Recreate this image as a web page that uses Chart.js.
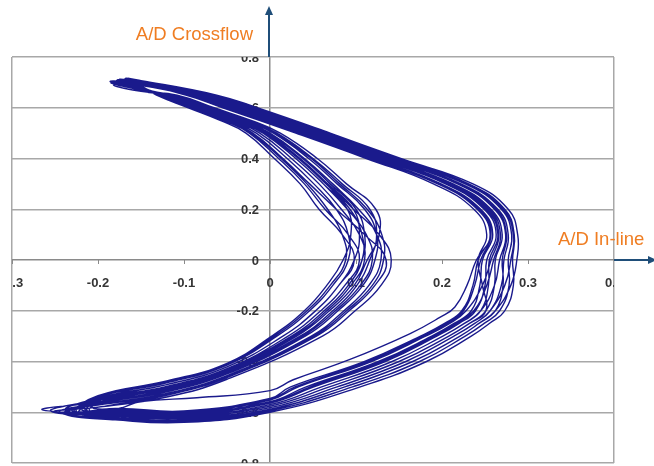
<!DOCTYPE html>
<html>
<head>
<meta charset="utf-8">
<script src="https://cdn.jsdelivr.net/npm/chart.js@4/dist/chart.umd.min.js"></script>
<style>
  html, body { margin: 0; padding: 0; background: #ffffff; }
  #wrap { width: 654px; height: 466px; position: relative; }
</style>
</head>
<body>
<div id="wrap"><canvas id="orbit" width="654" height="466"></canvas></div>
<script>
// Axis ticks (value and printed label)
const xTickValues = [-0.3, -0.2, -0.1, 0, 0.1, 0.2, 0.3, 0.4];
const xTickLabels = ['-0.3', '-0.2', '-0.1', '0', '0.1', '0.2', '0.3', '0.4'];
const yTickValues = [0.8, 0.6, 0.4, 0.2, 0, -0.2, -0.4, -0.6, -0.8];
const yTickLabels = ['0.8', '0.6', '0.4', '0.2', '0', '-0.2', '-0.4', '-0.6', '-0.8'];

// Cylinder orbit, one array per oscillation cycle: [A/D in-line, A/D crossflow]
const cycle1 = [[-0.183,0.700],[-0.150,0.691],[-0.091,0.65],[-0.047,0.60],[0.038,0.50],[0.120,0.40],[0.199,0.30],[0.245,0.20],[0.259,0.10],[0.247,0.00],[0.244,-0.10],[0.234,-0.20],[0.214,-0.25],[0.188,-0.30],[0.126,-0.40],[0.042,-0.50],[0.000,-0.558],[-0.100,-0.605],[-0.180,-0.595],[-0.230,-0.595],[-0.200,-0.555],[-0.120,-0.505],[-0.050,-0.435],[0.028,-0.30],[0.066,-0.20],[0.094,-0.10],[0.110,0.00],[0.104,0.10],[0.083,0.20],[0.057,0.30],[0.025,0.40],[-0.012,0.50],[-0.044,0.55],[-0.083,0.60],[-0.122,0.65],[-0.150,0.677]];
const cycle2 = [[-0.175,0.712],[-0.150,0.697],[-0.080,0.65],[-0.035,0.60],[0.050,0.50],[0.132,0.40],[0.213,0.30],[0.257,0.20],[0.270,0.10],[0.262,0.00],[0.261,-0.10],[0.251,-0.20],[0.232,-0.25],[0.208,-0.30],[0.150,-0.40],[0.069,-0.50],[0.000,-0.576],[-0.100,-0.620],[-0.180,-0.610],[-0.215,-0.590],[-0.200,-0.545],[-0.120,-0.491],[-0.050,-0.421],[0.015,-0.30],[0.053,-0.20],[0.080,-0.10],[0.098,0.00],[0.104,0.10],[0.097,0.20],[0.067,0.30],[0.035,0.40],[-0.004,0.50],[-0.036,0.55],[-0.077,0.60],[-0.118,0.65],[-0.150,0.673]];
const cycle3 = [[-0.174,0.709],[-0.150,0.694],[-0.085,0.65],[-0.041,0.60],[0.044,0.50],[0.126,0.40],[0.206,0.30],[0.251,0.20],[0.265,0.10],[0.255,0.00],[0.254,-0.10],[0.245,-0.20],[0.226,-0.25],[0.201,-0.30],[0.142,-0.40],[0.060,-0.50],[0.000,-0.570],[-0.100,-0.615],[-0.180,-0.605],[-0.222,-0.600],[-0.200,-0.562],[-0.120,-0.516],[-0.050,-0.446],[0.038,-0.30],[0.076,-0.20],[0.105,-0.10],[0.119,0.00],[0.112,0.10],[0.090,0.20],[0.062,0.30],[0.030,0.40],[-0.008,0.50],[-0.040,0.55],[-0.080,0.60],[-0.120,0.65],[-0.150,0.675]];
const cycle4 = [[-0.168,0.715],[-0.150,0.703],[-0.069,0.65],[-0.023,0.60],[0.062,0.50],[0.144,0.40],[0.227,0.30],[0.269,0.20],[0.281,0.10],[0.277,0.00],[0.278,-0.10],[0.267,-0.20],[0.249,-0.25],[0.227,-0.30],[0.174,-0.40],[0.096,-0.50],[0.000,-0.594],[-0.100,-0.635],[-0.180,-0.625],[-0.245,-0.600],[-0.200,-0.565],[-0.120,-0.519],[-0.050,-0.449],[0.041,-0.30],[0.079,-0.20],[0.108,-0.10],[0.122,0.00],[0.124,0.10],[0.110,0.20],[0.078,0.30],[0.045,0.40],[0.004,0.50],[-0.029,0.55],[-0.071,0.60],[-0.113,0.65],[-0.150,0.669]];
const cycle5 = [[-0.186,0.703],[-0.150,0.695],[-0.084,0.65],[-0.039,0.60],[0.046,0.50],[0.128,0.40],[0.208,0.30],[0.253,0.20],[0.266,0.10],[0.257,0.00],[0.247,-0.10],[0.228,-0.20],[0.209,-0.25],[0.181,-0.30],[0.118,-0.40],[0.033,-0.50],[0.000,-0.552],[-0.100,-0.600],[-0.180,-0.590],[-0.205,-0.585],[-0.190,-0.575],[-0.120,-0.533],[-0.050,-0.463],[0.054,-0.30],[0.092,-0.20],[0.122,-0.10],[0.135,0.00],[0.110,0.10],[0.077,0.20],[0.046,0.30],[0.015,0.40],[-0.020,0.50],[-0.051,0.55],[-0.089,0.60],[-0.127,0.65],[-0.150,0.681]];
const cycle6 = [[-0.181,0.702],[-0.150,0.700],[-0.075,0.65],[-0.029,0.60],[0.056,0.50],[0.138,0.40],[0.220,0.30],[0.263,0.20],[0.275,0.10],[0.270,0.00],[0.271,-0.10],[0.262,-0.20],[0.243,-0.25],[0.221,-0.30],[0.166,-0.40],[0.087,-0.50],[0.000,-0.588],[-0.100,-0.630],[-0.180,-0.620],[-0.232,-0.590],[-0.200,-0.572],[-0.120,-0.530],[-0.050,-0.460],[0.051,-0.30],[0.089,-0.20],[0.119,-0.10],[0.132,0.00],[0.130,0.10],[0.113,0.20],[0.081,0.30],[0.048,0.40],[0.006,0.50],[-0.027,0.55],[-0.070,0.60],[-0.112,0.65],[-0.150,0.668]];
const cycle7 = [[-0.167,0.713],[-0.150,0.707],[-0.062,0.65],[-0.015,0.60],[0.070,0.50],[0.152,0.40],[0.236,0.30],[0.277,0.20],[0.288,0.10],[0.287,0.00],[0.280,-0.10],[0.262,-0.20],[0.243,-0.25],[0.221,-0.30],[0.166,-0.40],[0.087,-0.50],[0.000,-0.588],[-0.100,-0.630],[-0.180,-0.620],[-0.225,-0.598],[-0.200,-0.535],[-0.120,-0.477],[-0.050,-0.407],[0.002,-0.30],[0.040,-0.20],[0.066,-0.10],[0.085,0.00],[0.094,0.10],[0.090,0.20],[0.062,0.30],[0.030,0.40],[-0.008,0.50],[-0.040,0.55],[-0.080,0.60],[-0.120,0.65],[-0.150,0.675]];
const cycle8 = [[-0.180,0.695],[-0.150,0.699],[-0.076,0.65],[-0.031,0.60],[0.054,0.50],[0.136,0.40],[0.218,0.30],[0.261,0.20],[0.274,0.10],[0.267,0.00],[0.261,-0.10],[0.245,-0.20],[0.226,-0.25],[0.201,-0.30],[0.142,-0.40],[0.060,-0.50],[0.000,-0.570],[-0.100,-0.615],[-0.180,-0.605],[-0.265,-0.590],[-0.200,-0.560],[-0.120,-0.512],[-0.050,-0.442],[0.035,-0.30],[0.073,-0.20],[0.101,-0.10],[0.116,0.00],[0.124,0.10],[0.116,0.20],[0.084,0.30],[0.050,0.40],[0.008,0.50],[-0.026,0.55],[-0.068,0.60],[-0.110,0.65],[-0.150,0.667]];
const cycle9 = [[-0.172,0.705],[-0.150,0.689],[-0.094,0.65],[-0.051,0.60],[0.034,0.50],[0.116,0.40],[0.195,0.30],[0.241,0.20],[0.256,0.10],[0.242,0.00],[0.236,-0.10],[0.223,-0.20],[0.203,-0.25],[0.175,-0.30],[0.110,-0.40],[0.024,-0.50],[0.000,-0.546],[-0.100,-0.595],[-0.180,-0.585],[-0.235,-0.603],[-0.200,-0.550],[-0.120,-0.498],[-0.050,-0.428],[0.021,-0.30],[0.059,-0.20],[0.087,-0.10],[0.104,0.00],[0.091,0.10],[0.064,0.20],[0.040,0.30],[0.010,0.40],[-0.024,0.50],[-0.054,0.55],[-0.092,0.60],[-0.130,0.65],[-0.150,0.683]];
const cycle10 = [[-0.176,0.706],[-0.150,0.690],[-0.093,0.65],[-0.049,0.60],[0.036,0.50],[0.118,0.40],[0.197,0.30],[0.243,0.20],[0.257,0.10],[0.240,0.00],[0.229,-0.10],[0.215,-0.185],[0.198,-0.225],[0.163,-0.290],[0.093,-0.392],[0.027,-0.472],[0.000,-0.515],[-0.085,-0.543],[-0.150,-0.558],[-0.175,-0.585],[-0.200,-0.600],[-0.228,-0.596],[-0.200,-0.552],[-0.120,-0.502],[-0.050,-0.432],[0.025,-0.30],[0.063,-0.20],[0.091,-0.10],[0.107,0.00],[0.107,0.10],[0.093,0.20],[0.065,0.30],[0.033,0.40],[-0.006,0.50],[-0.038,0.55],[-0.079,0.60],[-0.119,0.65],[-0.150,0.674]];
const cycle11 = [[-0.170,0.711],[-0.150,0.704],[-0.067,0.65],[-0.021,0.60],[0.064,0.50],[0.146,0.40],[0.229,0.30],[0.271,0.20],[0.283,0.10],[0.280,0.00],[0.273,-0.10],[0.256,-0.20],[0.238,-0.25],[0.214,-0.30],[0.158,-0.40],[0.078,-0.50],[0.000,-0.582],[-0.100,-0.625],[-0.180,-0.615],[-0.255,-0.595],[-0.200,-0.552],[-0.120,-0.502],[-0.050,-0.432],[0.025,-0.30],[0.063,-0.20],[0.091,-0.10],[0.107,0.00],[0.110,0.10],[0.100,0.20],[0.070,0.30],[0.038,0.40],[-0.002,0.50],[-0.035,0.55],[-0.076,0.60],[-0.116,0.65],[-0.150,0.672]];
const cycle12 = [[-0.178,0.708],[-0.150,0.705],[-0.066,0.65],[-0.019,0.60],[0.066,0.50],[0.148,0.40],[0.231,0.30],[0.273,0.20],[0.284,0.10],[0.282,0.00],[0.283,-0.10],[0.273,-0.20],[0.255,-0.25],[0.234,-0.30],[0.182,-0.40],[0.105,-0.50],[0.000,-0.600],[-0.100,-0.640],[-0.180,-0.630],[-0.240,-0.605],[-0.200,-0.570],[-0.120,-0.526],[-0.050,-0.456],[0.048,-0.30],[0.086,-0.20],[0.115,-0.10],[0.129,0.00],[0.124,0.10],[0.103,0.20],[0.073,0.30],[0.040,0.40],[0.000,0.50],[-0.033,0.55],[-0.074,0.60],[-0.115,0.65],[-0.150,0.671]];
const cycle13 = [[-0.185,0.698],[-0.150,0.693],[-0.087,0.65],[-0.043,0.60],[0.042,0.50],[0.124,0.40],[0.204,0.30],[0.249,0.20],[0.263,0.10],[0.252,0.00],[0.250,-0.10],[0.239,-0.20],[0.220,-0.25],[0.194,-0.30],[0.134,-0.40],[0.051,-0.50],[0.000,-0.564],[-0.100,-0.610],[-0.180,-0.600],[-0.220,-0.588],[-0.200,-0.540],[-0.120,-0.484],[-0.050,-0.414],[0.008,-0.30],[0.046,-0.20],[0.073,-0.10],[0.091,0.00],[0.091,0.10],[0.077,0.20],[0.051,0.30],[0.020,0.40],[-0.016,0.50],[-0.047,0.55],[-0.086,0.60],[-0.125,0.65],[-0.150,0.679]];
const cycle14 = [[-0.184,0.696],[-0.150,0.690],[-0.093,0.65],[-0.049,0.60],[0.036,0.50],[0.118,0.40],[0.197,0.30],[0.243,0.20],[0.257,0.10],[0.245,0.00],[0.238,-0.10],[0.225,-0.20],[0.206,-0.25],[0.178,-0.30],[0.114,-0.40],[0.029,-0.50],[0.000,-0.549],[-0.100,-0.598],[-0.180,-0.588],[-0.212,-0.596],[-0.200,-0.538],[-0.120,-0.480],[-0.050,-0.410],[0.005,-0.30],[0.043,-0.20],[0.070,-0.10],[0.088,0.00],[0.084,0.10],[0.067,0.20],[0.043,0.30],[0.013,0.40],[-0.022,0.50],[-0.053,0.55],[-0.091,0.60],[-0.128,0.65],[-0.150,0.682]];
const cycle15 = [[-0.165,0.712],[-0.150,0.701],[-0.073,0.65],[-0.027,0.60],[0.058,0.50],[0.140,0.40],[0.222,0.30],[0.265,0.20],[0.277,0.10],[0.272,0.00],[0.269,-0.10],[0.256,-0.20],[0.238,-0.25],[0.214,-0.30],[0.158,-0.40],[0.078,-0.50],[0.000,-0.582],[-0.100,-0.625],[-0.180,-0.615],[-0.250,-0.597],[-0.200,-0.580],[-0.120,-0.540],[-0.050,-0.470],[0.061,-0.30],[0.099,-0.20],[0.129,-0.10],[0.141,0.00],[0.127,0.10],[0.097,0.20],[0.067,0.30],[0.035,0.40],[-0.004,0.50],[-0.036,0.55],[-0.077,0.60],[-0.118,0.65],[-0.150,0.673]];
const cycle16 = [[-0.170,0.700],[-0.150,0.696],[-0.082,0.65],[-0.037,0.60],[0.048,0.50],[0.130,0.40],[0.211,0.30],[0.255,0.20],[0.268,0.10],[0.260,0.00],[0.252,-0.10],[0.237,-0.20],[0.217,-0.25],[0.191,-0.30],[0.130,-0.40],[0.047,-0.50],[0.000,-0.561],[-0.100,-0.607],[-0.180,-0.597],[-0.210,-0.594],[-0.195,-0.557],[-0.120,-0.508],[-0.050,-0.438],[0.031,-0.30],[0.069,-0.20],[0.098,-0.10],[0.113,0.00],[0.127,0.10],[0.123,0.20],[0.089,0.30],[0.055,0.40],[0.012,0.50],[-0.022,0.55],[-0.065,0.60],[-0.108,0.65],[-0.150,0.665]];
const cycle17 = [[-0.182,0.690],[-0.150,0.687],[-0.098,0.65],[-0.055,0.60],[0.030,0.50],[0.112,0.40],[0.190,0.30],[0.237,0.20],[0.252,0.10],[0.242,0.00],[0.247,-0.10],[0.251,-0.20],[0.232,-0.25],[0.208,-0.30],[0.150,-0.40],[0.069,-0.50],[0.000,-0.576],[-0.100,-0.620],[-0.180,-0.610],[-0.238,-0.592],[-0.200,-0.545],[-0.120,-0.491],[-0.050,-0.421],[0.015,-0.30],[0.053,-0.20],[0.080,-0.10],[0.098,0.00],[0.084,0.10],[0.057,0.20],[0.035,0.30],[0.005,0.40],[-0.028,0.50],[-0.058,0.55],[-0.095,0.60],[-0.132,0.65],[-0.150,0.685],[-0.179,0.704]];

const cycles = [cycle1, cycle2, cycle3, cycle4, cycle5, cycle6, cycle7, cycle8, cycle9,
                cycle10, cycle11, cycle12, cycle13, cycle14, cycle15, cycle16, cycle17];
const orbitPoints = [];
cycles.forEach(c => c.forEach(p => orbitPoints.push({ x: p[0], y: p[1] })));

const LINE_COLOR = 'rgb(26,26,140)';
const GRID_COLOR = '#a8a8a8';
const AXIS_COLOR = '#8a8a8a';
const TICK_TEXT = '#353535';
const TITLE_COLOR = '#ef7d22';
const ARROW_COLOR = '#1f4e79';

const near = (a, b) => Math.abs(a - b) < 1e-6;

const axisDecor = {
  id: 'axisDecor',
  beforeDatasetsDraw(chart) {
    const { ctx, chartArea: a, scales: { x, y } } = chart;
    const x0 = x.getPixelForValue(0);
    const y0 = y.getPixelForValue(0);
    ctx.save();
    ctx.beginPath();
    ctx.rect(a.left, a.top, a.right - a.left, a.bottom - a.top);
    ctx.clip();
    // small tick marks under the in-line axis
    ctx.strokeStyle = AXIS_COLOR;
    ctx.lineWidth = 1;
    xTickValues.forEach(v => {
      const px = Math.round(x.getPixelForValue(v)) + 0.5;
      ctx.beginPath();
      ctx.moveTo(px, y0);
      ctx.lineTo(px, y0 + 4);
      ctx.stroke();
    });
    // tick labels sit along the two zero axes
    ctx.font = 'bold 13px "Liberation Sans", Arial, sans-serif';
    ctx.fillStyle = TICK_TEXT;
    ctx.textBaseline = 'middle';
    ctx.textAlign = 'center';
    xTickValues.forEach((v, i) => ctx.fillText(xTickLabels[i], x.getPixelForValue(v), y0 + 23));
    ctx.textAlign = 'right';
    yTickValues.forEach((v, i) => ctx.fillText(yTickLabels[i], x0 - 11, y.getPixelForValue(v) + 1));
    ctx.restore();
  },
  afterDraw(chart) {
    const { ctx, chartArea: a, scales: { x, y } } = chart;
    const x0 = x.getPixelForValue(0) - 1;
    const y0 = y.getPixelForValue(0);
    ctx.save();
    ctx.strokeStyle = ARROW_COLOR;
    ctx.fillStyle = ARROW_COLOR;
    ctx.lineWidth = 2;
    // crossflow arrow
    ctx.beginPath();
    ctx.moveTo(x0, a.top);
    ctx.lineTo(x0, 14);
    ctx.stroke();
    ctx.beginPath();
    ctx.moveTo(x0, 6);
    ctx.lineTo(x0 - 4, 15);
    ctx.lineTo(x0 + 4, 15);
    ctx.closePath();
    ctx.fill();
    // in-line arrow
    ctx.beginPath();
    ctx.moveTo(a.right, y0);
    ctx.lineTo(649, y0);
    ctx.stroke();
    ctx.beginPath();
    ctx.moveTo(657, y0);
    ctx.lineTo(648, y0 - 4);
    ctx.lineTo(648, y0 + 4);
    ctx.closePath();
    ctx.fill();
    // axis titles
    ctx.font = '18.5px "Liberation Sans", Arial, sans-serif';
    ctx.fillStyle = TITLE_COLOR;
    ctx.textBaseline = 'middle';
    ctx.textAlign = 'right';
    ctx.fillText('A/D Crossflow', 253, 35);
    ctx.textAlign = 'left';
    ctx.fillText('A/D In-line', 558, 240);
    ctx.restore();
  }
};

new Chart(document.getElementById('orbit'), {
  type: 'scatter',
  data: {
    datasets: [{
      data: orbitPoints,
      showLine: true,
      borderColor: LINE_COLOR,
      borderWidth: 1.4,
      pointRadius: 0,
      tension: 0.45,
      fill: false
    }]
  },
  options: {
    responsive: false,
    animation: false,
    devicePixelRatio: 1,
    layout: { padding: { left: 12, right: 40, top: 57, bottom: 3 } },
    plugins: { legend: { display: false }, tooltip: { enabled: false } },
    scales: {
      x: {
        type: 'linear', min: -0.3, max: 0.4,
        ticks: { display: false, stepSize: 0.1 },
        grid: {
          drawTicks: false, lineWidth: 1.5,
          color: c => {
            const v = c.tick ? c.tick.value : NaN;
            if (near(v, -0.3) || near(v, 0.4)) return GRID_COLOR;
            if (near(v, 0)) return AXIS_COLOR;
            return 'rgba(0,0,0,0)';
          }
        },
        border: { display: false }
      },
      y: {
        type: 'linear', min: -0.8, max: 0.8,
        ticks: { display: false, stepSize: 0.2 },
        grid: {
          drawTicks: false, lineWidth: 1.5,
          color: c => (c.tick && near(c.tick.value, 0)) ? AXIS_COLOR : GRID_COLOR
        },
        border: { display: false }
      }
    }
  },
  plugins: [axisDecor]
});
</script>
</body>
</html>
